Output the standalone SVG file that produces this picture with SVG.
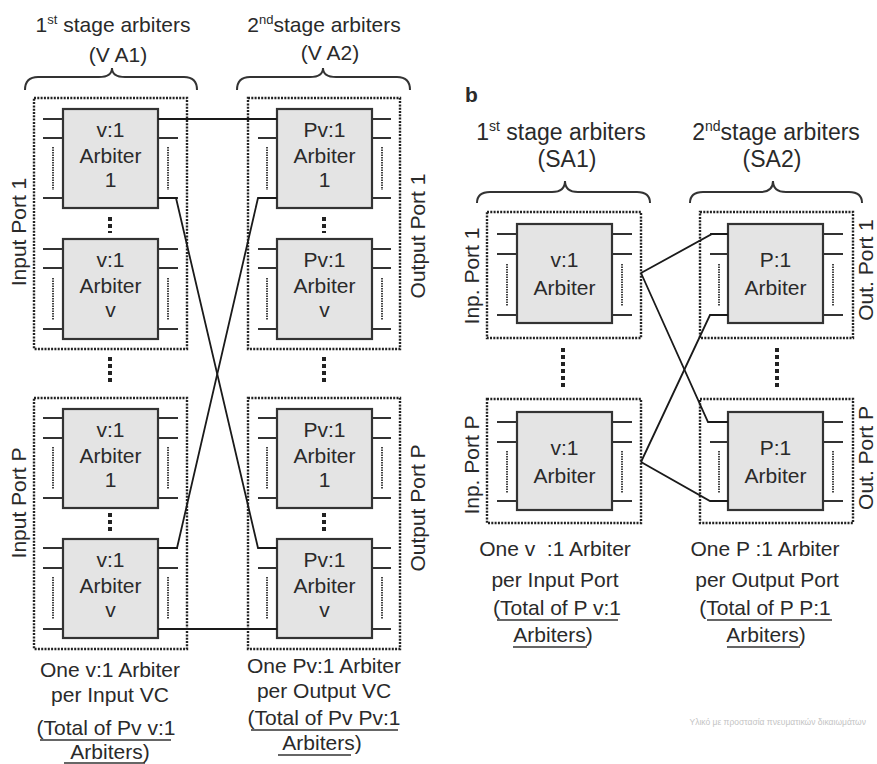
<svg xmlns="http://www.w3.org/2000/svg" width="877" height="764" viewBox="0 0 877 764">
<style>
text{font-family:"Liberation Sans",Arial,sans-serif;fill:#2a2a2a}
.t{font-size:21px;text-anchor:middle}
.tb{font-size:23px;text-anchor:middle}
.arb{fill:#e4e4e4;stroke:#333;stroke-width:2.2}
.stub{stroke:#333;stroke-width:2;fill:none}
.vd{stroke:#444;stroke-width:2;stroke-dasharray:1.5 1;fill:none}
.ob{fill:none;stroke:#222;stroke-width:2.4;stroke-dasharray:2 1.3}
.vdots{stroke:#222;stroke-width:4;stroke-dasharray:4 3;fill:none}
.br{fill:none;stroke:#333;stroke-width:2}
.con{fill:none;stroke:#1a1a1a;stroke-width:1.8}
.ul{stroke:#333;stroke-width:1.6}
.wm{font-size:8.5px;fill:#c4c4c4;text-anchor:end}
</style>

<!-- Panel a titles -->
<g id="title-va1">
<text class="t" x="113" y="32">1<tspan font-size="13" dy="-8">st</tspan><tspan dy="8"> stage arbiters</tspan></text>
<text class="t" x="118" y="62">(V A1)</text>
<path class="br" d="M25,90 Q25,77 38,77 L99,77 Q112,77 112,68 Q112,77 125,77 L184,77 Q197,77 197,90"/>
</g>
<g id="title-va2">
<text class="t" x="324" y="32">2<tspan font-size="13" dy="-8">nd</tspan><tspan dy="8">stage arbiters</tspan></text>
<text class="t" x="330" y="60">(V A2)</text>
<path class="br" d="M237,90 Q237,77 250,77 L310,77 Q323,77 323,68 Q323,77 336,77 L397,77 Q410,77 410,90"/>
</g>

<!-- Panel a outer port boxes -->
<g id="va1-port1"><rect class="ob" x="34" y="98" width="153" height="251"/>
<text class="t" transform="translate(26,232) rotate(-90)">Input Port 1</text></g>
<g id="va1-portP"><rect class="ob" x="34" y="398" width="153" height="251"/>
<text class="t" transform="translate(26,503) rotate(-90)">Input Port P</text></g>
<g id="va2-port1"><rect class="ob" x="248" y="98" width="152" height="251"/>
<text class="t" transform="translate(425,236) rotate(-90)">Output Port 1</text></g>
<g id="va2-portP"><rect class="ob" x="248" y="398" width="152" height="251"/>
<text class="t" transform="translate(425,508) rotate(-90)">Output Port P</text></g>

<!-- Panel a vertical dots -->
<g id="va-dots">
<path class="vdots" d="M110,217V233M110,357V385M110,513V533M324,217V233M324,357V385M324,513V533"/>
</g>

<!-- Panel a arbiters col1 -->
<g id="va1-p1-a1">
<rect class="arb" x="63" y="109" width="95" height="99"/>
<path class="stub" d="M43,119H63M43,138H63M43,198H63M158,119H178M158,138H178M158,198H178"/>
<path class="vd" d="M53,147V190M168,147V190"/>
<text class="t" x="110.5" y="137">v:1</text><text class="t" x="110.5" y="163">Arbiter</text><text class="t" x="110.5" y="187">1</text>
</g>
<g id="va1-p1-av">
<rect class="arb" x="63" y="239" width="95" height="100"/>
<path class="stub" d="M43,249H63M43,268H63M43,329H63M158,249H178M158,268H178M158,329H178"/>
<path class="vd" d="M53,278V320M168,278V320"/>
<text class="t" x="110.5" y="267">v:1</text><text class="t" x="110.5" y="293">Arbiter</text><text class="t" x="110.5" y="317">v</text>
</g>
<g id="va1-pP-a1">
<rect class="arb" x="63" y="409" width="95" height="99"/>
<path class="stub" d="M43,418H63M43,438H63M43,498H63M158,418H178M158,438H178M158,498H178"/>
<path class="vd" d="M53,447V489M168,447V489"/>
<text class="t" x="110.5" y="437">v:1</text><text class="t" x="110.5" y="463">Arbiter</text><text class="t" x="110.5" y="487">1</text>
</g>
<g id="va1-pP-av">
<rect class="arb" x="63" y="539" width="95" height="99"/>
<path class="stub" d="M43,548H63M43,568H63M43,629H63M158,548H178M158,568H178M158,629H178"/>
<path class="vd" d="M53,577V619M168,577V619"/>
<text class="t" x="110.5" y="567">v:1</text><text class="t" x="110.5" y="593">Arbiter</text><text class="t" x="110.5" y="617">v</text>
</g>

<!-- Panel a arbiters col2 -->
<g id="va2-p1-a1">
<rect class="arb" x="277" y="109" width="95" height="99"/>
<path class="stub" d="M258,119H277M258,138H277M258,198H277M372,119H391M372,138H391M372,198H391"/>
<path class="vd" d="M267,147V190M382,147V190"/>
<text class="t" x="324.5" y="137">Pv:1</text><text class="t" x="324.5" y="163">Arbiter</text><text class="t" x="324.5" y="187">1</text>
</g>
<g id="va2-p1-av">
<rect class="arb" x="277" y="239" width="95" height="100"/>
<path class="stub" d="M258,249H277M258,268H277M258,329H277M372,249H391M372,268H391M372,329H391"/>
<path class="vd" d="M267,278V320M382,278V320"/>
<text class="t" x="324.5" y="267">Pv:1</text><text class="t" x="324.5" y="293">Arbiter</text><text class="t" x="324.5" y="317">v</text>
</g>
<g id="va2-pP-a1">
<rect class="arb" x="277" y="409" width="95" height="99"/>
<path class="stub" d="M258,418H277M258,438H277M258,498H277M372,418H391M372,438H391M372,498H391"/>
<path class="vd" d="M267,447V489M382,447V489"/>
<text class="t" x="324.5" y="437">Pv:1</text><text class="t" x="324.5" y="463">Arbiter</text><text class="t" x="324.5" y="487">1</text>
</g>
<g id="va2-pP-av">
<rect class="arb" x="277" y="539" width="95" height="99"/>
<path class="stub" d="M258,548H277M258,568H277M258,629H277M372,548H391M372,568H391M372,629H391"/>
<path class="vd" d="M267,577V619M382,577V619"/>
<text class="t" x="324.5" y="567">Pv:1</text><text class="t" x="324.5" y="593">Arbiter</text><text class="t" x="324.5" y="617">v</text>
</g>

<!-- Panel a bottom captions -->
<g id="va1-caption">
<text class="t" x="110" y="677">One v:1 Arbiter</text>
<text class="t" x="110" y="702">per Input VC</text>
<text class="t" x="106" y="735">(Total of Pv v:1</text>
<line class="ul" x1="40" y1="740" x2="171" y2="740"/>
<text class="t" x="110" y="759">Arbiters)</text>
<line class="ul" x1="64" y1="763" x2="145" y2="763"/>
</g>
<g id="va2-caption">
<text class="t" x="324" y="673">One Pv:1 Arbiter</text>
<text class="t" x="324" y="698">per Output VC</text>
<text class="t" x="324" y="725">(Total of Pv Pv:1</text>
<line class="ul" x1="251" y1="730" x2="398" y2="730"/>
<text class="t" x="322" y="750">Arbiters)</text>
<line class="ul" x1="278" y1="755" x2="351" y2="755"/>
</g>

<!-- Panel b -->
<text x="465" y="102" font-size="21" font-weight="bold">b</text>
<g id="title-sa1">
<text class="tb" x="561" y="140">1<tspan font-size="14" dy="-9">st</tspan><tspan dy="9"> stage arbiters</tspan></text>
<text class="tb" x="567" y="167">(SA1)</text>
<path class="br" d="M477,203 Q477,192 490,192 L552,192 Q565,192 565,181 Q565,192 578,192 L637,192 Q650,192 650,203"/>
</g>
<g id="title-sa2">
<text class="tb" x="776" y="140">2<tspan font-size="14" dy="-9">nd</tspan><tspan dy="9">stage arbiters</tspan></text>
<text class="tb" x="772" y="167">(SA2)</text>
<path class="br" d="M690,203 Q690,192 703,192 L760,192 Q773,192 773,181 Q773,192 786,192 L849,192 Q862,192 862,203"/>
</g>

<g id="sa1-port1">
<rect class="ob" x="487" y="212" width="154" height="126"/>
<rect class="arb" x="517" y="224" width="95" height="99"/>
<path class="stub" d="M497,234H517M497,254H517M497,315H517M612,234H632M612,254H632M612,315H632"/>
<path class="vd" d="M507,264V306M622,264V306"/>
<text class="t" x="564.5" y="267">v:1</text><text class="t" x="564.5" y="295">Arbiter</text>
<text class="t" transform="translate(479,276) rotate(-90)">Inp. Port 1</text>
</g>
<g id="sa1-portP">
<rect class="ob" x="487" y="399" width="154" height="124"/>
<rect class="arb" x="517" y="412" width="95" height="98"/>
<path class="stub" d="M497,422H517M497,442H517M497,501H517M612,422H632M612,442H632M612,501H632"/>
<path class="vd" d="M507,451V493M622,451V493"/>
<text class="t" x="564.5" y="455">v:1</text><text class="t" x="564.5" y="483">Arbiter</text>
<text class="t" transform="translate(479,465) rotate(-90)">Inp. Port P</text>
</g>
<g id="sa2-port1">
<rect class="ob" x="700" y="212" width="153" height="126"/>
<rect class="arb" x="728" y="224" width="95" height="99"/>
<path class="stub" d="M710,234H728M710,254H728M710,315H728M823,234H843M823,254H843M823,315H843"/>
<path class="vd" d="M719,264V306M833,264V306"/>
<text class="t" x="775.5" y="267">P:1</text><text class="t" x="775.5" y="295">Arbiter</text>
<text class="t" transform="translate(873,270) rotate(-90)">Out. Port 1</text>
</g>
<g id="sa2-portP">
<rect class="ob" x="700" y="399" width="153" height="124"/>
<rect class="arb" x="728" y="412" width="95" height="98"/>
<path class="stub" d="M710,422H728M710,442H728M710,501H728M823,422H843M823,442H843M823,501H843"/>
<path class="vd" d="M719,451V493M833,451V493"/>
<text class="t" x="775.5" y="455">P:1</text><text class="t" x="775.5" y="483">Arbiter</text>
<text class="t" transform="translate(873,458) rotate(-90)">Out. Port P</text>
</g>
<g id="sa-dots">
<path class="vdots" d="M563,348V387M777,348V387"/>
</g>

<g id="sa1-caption">
<text class="t" x="555" y="556" style="white-space:pre">One v  :1 Arbiter</text>
<text class="t" x="555" y="587">per Input Port</text>
<text class="t" x="557" y="615">(Total of P v:1</text>
<line class="ul" x1="497" y1="620" x2="618" y2="620"/>
<text class="t" x="553" y="642">Arbiters)</text>
<line class="ul" x1="513" y1="647" x2="587" y2="647"/>
</g>
<g id="sa2-caption">
<text class="t" x="765" y="556">One P :1 Arbiter</text>
<text class="t" x="767" y="587">per Output Port</text>
<text class="t" x="765" y="615">(Total of P P:1</text>
<line class="ul" x1="707" y1="620" x2="832" y2="620"/>
<text class="t" x="766" y="642">Arbiters)</text>
<line class="ul" x1="727" y1="647" x2="800" y2="647"/>
</g>

<!-- Connectors -->
<g id="connectors">
<path class="con" d="M158,119H277"/>
<path class="con" d="M158,629H277"/>
<path class="con" d="M158,198H176L258,548H277"/>
<path class="con" d="M277,198H258L177,548H158"/>
<path class="con" d="M641,273L712,234H728"/>
<path class="con" d="M641,273L708,422H728"/>
<path class="con" d="M641,462L710,315H728"/>
<path class="con" d="M641,462L710,501H728"/>
</g>

<text class="wm" x="866" y="725">Υλικό με προστασία πνευματικών δικαιωμάτων</text>
</svg>
